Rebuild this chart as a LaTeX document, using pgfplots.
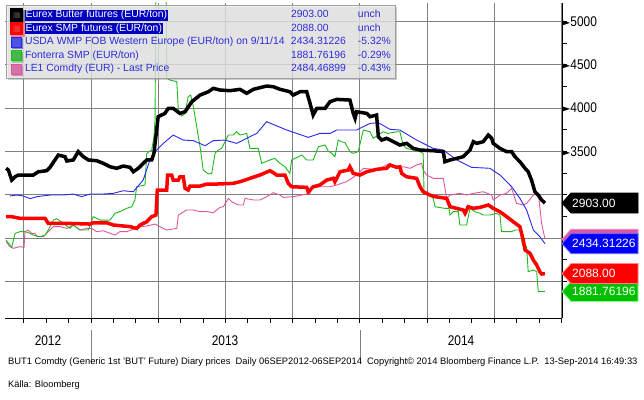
\documentclass[border=0pt]{standalone}
\usepackage{pgfplots}
\pgfplotsset{compat=1.18}
\usepackage{graphicx}
\usepackage{fontspec}
\setmainfont{Liberation Sans}
\newfontfamily\dejavu{DejaVu Sans}
\usetikzlibrary{shadows}
\definecolor{cblue}{HTML}{2828F0}
\definecolor{cgreen}{HTML}{1DB91D}
\definecolor{cpink}{HTML}{E0559F}
\definecolor{cred}{HTML}{FF0000}
\definecolor{legtext}{HTML}{2D2DD8}
\definecolor{hlblue}{HTML}{0000C0}
\tikzset{gridst/.style={black!50, line width=0.8pt}}
\newcommand{\nar}[1]{\scalebox{0.85}[1]{#1}}
\newcommand{\legrow}[3]{\makebox[266pt][l]{#1}\makebox[67pt][l]{#2}#3}
\newcommand{\hl}[1]{{\setlength{\fboxsep}{0.6pt}\colorbox{hlblue}{\textcolor{white}{#1}}}}
\newcommand{\valtag}[4]{%
  \path[fill=#2, draw=#3, line width=0.8pt] (#1) -- ++(9,10) -- ++(67,0) -- ++(0,-20) -- ++(-67,0) -- cycle;
  \node[anchor=west, text=white, font=\fontsize{12}{12}\selectfont, inner sep=0pt] at ([xshift=10pt]#1) {#4};}
\begin{document}
\begin{tikzpicture}[x=1pt,y=1pt]
\fill[white] (0,0) rectangle (644,399);
\begin{axis}[
  at={(5pt,81pt)}, anchor=south west,
  scale only axis, width=557pt, height=315pt,
  xmin=-3.84, xmax=21.03, ymin=1575, ymax=5213,
  axis x line*=bottom, axis y line*=right,
  axis line style={black, line width=1pt, -},
  xtick={-3,0,...,21},
  minor xtick={-2,-1,1,2,4,5,7,8,10,11,13,14,16,17,19,20},
  xticklabels={},
  ytick={3500,4000,4500,5000},
  extra y ticks={2000,2500,3000}, extra y tick labels={},
  minor ytick={2250,2750,...,4750},
  tick align=outside, major tick length=5pt, minor tick length=5pt,
  tick style={black, line width=0.8pt},
  /pgf/number format/1000 sep={},
  /pgf/number format/assume math mode=true,
  yticklabel={{\dejavu\fontsize{12}{12}\selectfont ►}\nar{\pgfmathprintnumber{\tick}}},
  yticklabel style={anchor=west, inner sep=0pt, xshift=-6pt, font=\fontsize{14}{14}\selectfont},
  reverse legend,
  legend image code/.code={\fill (2pt,-5pt) rectangle (12pt,5pt);},
  legend style={at={(rel axis cs:0.0018,0.994)}, anchor=north west,
    fill=gray!14, fill opacity=0.72, text opacity=1, draw=gray!75, line width=1pt,
    drop shadow={shadow xshift=1.5pt, shadow yshift=-1.5pt, opacity=0.4},
    inner sep=3pt, row sep=0pt,
    font=\fontsize{10.4}{12}\selectfont, text=legtext,
    nodes={inner ysep=1.5pt, inner xsep=2pt, text height=8pt, text depth=2.5pt},
    cells={anchor=west}},
]
% grid
\pgfplotsinvokeforeach{2000,2500,3000,3500,4000,4500,5000}{\draw[gridst] (axis cs:-3.84,#1) -- (axis cs:21.03,#1);}
\pgfplotsinvokeforeach{-3,0,3,6,9,12,15,18,21}{\draw[gridst] (axis cs:#1,1575) -- (axis cs:#1,5213);}
% LE1 Comdty (pink)
\addplot[cpink, line width=0.9pt] coordinates {
(-3.79,2456) (-3.62,2399) (-3.47,2380) (-3.17,2399) (-2.99,2391) (-2.95,2572) (-2.80,2591) (-2.65,2553)
(-2.50,2553) (-2.42,2514) (-2.13,2514) (-1.91,2572) (-1.68,2630) (-1.38,2630) (-1.08,2610) (-0.79,2649)
(-0.49,2591) (-0.19,2610) (0.03,2610) (0.25,2572) (0.55,2583) (0.85,2553) (1.07,2533) (1.29,2572)
(1.59,2572) (1.89,2599) (2.19,2630) (2.49,2637) (2.86,2660) (3.08,2630) (3.38,2591) (3.83,2610)
(3.90,2764) (4.27,2822) (4.57,2822) (4.87,2803) (5.17,2803) (5.46,2791) (5.76,2853) (5.91,2860)
(6.13,2957) (6.28,2918) (6.58,2880) (6.80,2880) (6.88,2957) (7.25,2938) (7.54,2938) (7.84,2976)
(8.14,3022) (8.44,2995) (8.58,2968) (9.03,2976) (9.41,2995) (9.78,3015) (9.85,3073) (10.22,3091)
(10.67,3091) (10.97,3111) (11.41,3150) (11.86,3226) (12.16,3304) (12.60,3292) (12.90,3304) (13.35,3361)
(13.65,3304) (13.94,3322) (14.24,3304) (14.54,3342) (14.76,3361) (14.83,3284) (14.99,3226) (15.28,3188)
(15.73,3188) (15.88,2957) (16.03,2995) (16.47,3015) (16.77,2995) (17.07,3015) (17.51,3033) (17.89,2995)
(17.96,2938) (18.26,2995) (18.56,3015) (18.78,3073) (19.00,2899) (19.30,2880) (19.45,2899) (19.75,2995)
(19.97,3015) (20.12,2668) (20.27,2484)};
\addlegendentry{\legrow{LE1 Comdty (EUR) - Last Price}{2484.46899}{-0.43\%}}
% Fonterra SMP (green)
\addplot[cgreen, line width=0.9pt] coordinates {
(-3.79,2475) (-3.54,2391) (-3.39,2553) (-3.17,2572) (-2.95,2572) (-2.72,2553) (-2.58,2533) (-2.28,2514)
(-2.05,2533) (-1.91,2591) (-1.68,2706) (-1.53,2722) (-1.24,2668) (-0.94,2610) (-0.79,2649) (-0.49,2591)
(-0.12,2591) (0.10,2745) (0.40,2706) (0.85,2706) (1.07,2784) (1.29,2803) (1.59,2841) (1.82,2860)
(1.96,2938) (2.04,3091) (2.41,3111) (2.49,3477) (2.71,3515) (2.81,3669) (2.86,3861) (2.90,5500)
(3.35,5500) (3.38,4343) (3.53,4323) (3.83,4304) (3.90,3977) (4.05,3908) (4.20,3938) (4.34,4130)
(4.45,4150) (4.57,4015) (4.87,3553) (5.01,3284) (5.24,3238) (5.39,3245) (5.54,3477) (5.68,3515)
(5.83,3534) (5.98,3611) (6.13,3688) (6.35,3688) (6.50,3726) (6.65,3688) (6.95,3707) (7.10,3534)
(7.47,3534) (7.62,3361) (7.99,3400) (8.21,3419) (8.44,3361) (8.66,3322) (8.88,3245) (8.96,3400)
(9.11,3419) (9.41,3457) (9.63,3400) (9.92,3400) (10.15,3553) (10.45,3573) (10.60,3500) (10.75,3477)
(10.89,3438) (11.04,3630) (11.19,3611) (11.34,3600) (11.56,3496) (11.71,3477) (11.93,3496) (12.16,3746)
(12.46,3726) (12.60,3650) (12.83,3688) (13.05,3726) (13.27,3707) (13.65,3726) (13.79,3726) (13.94,3573)
(14.09,3534) (14.39,3515) (14.69,3496) (14.83,3477) (14.87,3033) (15.13,2995) (15.28,2957) (15.36,2860)
(15.80,2841) (15.98,2841) (16.03,2764) (16.18,2803) (16.40,2803) (16.47,2649) (16.77,2649) (16.92,2841)
(17.14,2803) (17.37,2784) (17.51,2764) (17.81,2764) (18.11,2784) (18.26,2764) (18.33,2572) (18.78,2572)
(18.93,2591) (19.15,2591) (19.27,2418) (19.45,2399) (19.52,2110) (19.75,2129) (19.90,2110) (19.97,1880)
(20.27,1882)};
\addlegendentry{\legrow{Fonterra SMP (EUR/ton)}{1881.76196}{-0.29\%}}
% USDA WMP (blue)
\addplot[cblue, line width=0.9pt] coordinates {
(-3.62,2984) (-3.32,2995) (-3.02,2984) (-2.72,2953) (-2.42,2976) (-1.83,2995) (-1.24,2995) (-0.79,3007)
(-0.42,2976) (-0.04,3007) (0.55,3007) (1.00,3015) (1.44,3045) (1.89,3033) (2.33,3168) (2.63,3400)
(2.93,3515) (3.23,3592) (3.67,3688) (4.12,3630) (4.57,3623) (5.09,3565) (5.46,3623) (5.98,3630)
(6.50,3592) (6.95,3650) (7.40,3707) (7.84,3842) (8.74,3746) (9.70,3661) (10.22,3707) (10.67,3707)
(10.97,3746) (11.86,3746) (12.46,3823) (12.83,3830) (13.35,3754) (13.79,3746) (14.54,3630) (15.28,3534)
(15.73,3515) (16.33,3400) (16.99,3315) (17.81,3304) (18.26,3226) (18.78,3091) (19.15,2957) (19.45,2822)
(19.75,2591) (20.04,2514) (20.27,2434)};
\addlegendentry{\legrow{USDA WMP FOB Western Europe (EUR/ton) on 9/11/14}{2434.31226}{-5.32\%}}
% Eurex SMP futures (red)
\addplot[cred, line width=3.5pt] coordinates {
(-3.79,2745) (-3.54,2745) (-3.17,2726) (-2.05,2726) (-1.91,2668) (-1.08,2668) (-0.04,2660) (0.10,2675)
(0.70,2675) (1.00,2649) (1.74,2630) (2.04,2610) (2.19,2649) (2.49,2687) (2.71,2745) (2.90,2764)
(2.96,3053) (3.38,3053) (3.42,3226) (3.60,3226) (3.67,3168) (3.90,3168) (3.97,3206) (4.12,3206)
(4.20,3073) (4.34,3053) (4.42,3099) (4.87,3099) (5.17,3122) (5.61,3122) (6.35,3130) (6.65,3149)
(7.10,3188) (7.54,3226) (7.99,3276) (8.14,3253) (8.29,3226) (8.66,3226) (8.81,3130) (8.96,3091)
(9.63,3084) (9.70,3033) (9.78,3053) (9.92,3091) (10.22,3111) (10.52,3168) (10.82,3188) (10.89,3149)
(11.12,3264) (11.49,3284) (11.56,3322) (11.71,3245) (12.01,3226) (12.31,3264) (12.75,3292) (13.20,3304)
(13.35,3342) (13.65,3315) (13.79,3322) (13.87,3245) (14.09,3206) (14.54,3188) (14.69,3091) (14.83,3033)
(15.13,2995) (15.36,2976) (15.88,2957) (16.03,2860) (16.33,2841) (16.62,2822) (16.70,2784) (16.84,2860)
(17.07,2841) (17.37,2853) (17.74,2880) (17.96,2841) (18.26,2802) (18.56,2745) (18.85,2687) (19.15,2630)
(19.30,2475) (19.38,2360) (19.60,2322) (19.75,2244) (19.90,2187) (20.04,2110) (20.12,2083) (20.27,2088)};
\addlegendentry{\legrow{\hl{Eurex SMP futures (EUR/ton)}}{2088.00}{unch}}
% Eurex Butter futures (black)
\addplot[black, line width=3.5pt] coordinates {
(-3.79,3304) (-3.69,3284) (-3.54,3168) (-3.39,3206) (-3.25,3226) (-3.02,3226) (-2.58,3226) (-2.35,3264)
(-1.98,3276) (-1.83,3315) (-1.61,3400) (-1.46,3457) (-1.16,3438) (-1.08,3388) (-0.79,3400) (-0.57,3496)
(-0.34,3438) (-0.12,3400) (0.25,3392) (0.55,3361) (0.85,3322) (1.15,3304) (1.44,3330) (1.74,3315)
(1.89,3264) (2.11,3304) (2.49,3400) (2.71,3400) (2.81,3477) (2.93,3746) (3.00,3900) (3.30,3938)
(3.45,3996) (3.67,3996) (3.97,3938) (4.20,3957) (4.50,4073) (4.87,4150) (5.24,4188) (5.46,4227)
(5.76,4208) (6.21,4200) (6.65,4216) (6.95,4170) (7.25,4216) (7.84,4254) (8.14,4246) (8.44,4216)
(8.88,4188) (9.03,4150) (9.33,4188) (9.63,4188) (9.78,4054) (9.92,3919) (10.08,3996) (10.45,3996)
(10.67,4073) (10.97,4100) (11.56,4092) (11.71,3938) (11.79,3881) (11.86,3957) (12.31,3938) (12.46,3900)
(12.75,3919) (12.83,3669) (12.98,3630) (13.20,3650) (13.50,3611) (13.79,3573) (14.09,3592) (14.39,3534)
(14.69,3515) (15.28,3507) (15.73,3496) (15.80,3380) (16.03,3400) (16.33,3419) (16.62,3438) (16.92,3515)
(17.07,3611) (17.22,3592) (17.51,3611) (17.74,3688) (17.89,3650) (17.96,3592) (18.26,3534) (18.56,3496)
(18.78,3496) (18.93,3438) (19.15,3380) (19.38,3304) (19.52,3264) (19.67,3168) (19.82,3033) (19.97,2995)
(20.12,2938) (20.27,2903)};
\addlegendentry{\legrow{\hl{Eurex Butter futures (EUR/ton)}}{2903.00}{unch}}
\coordinate (tK) at (axis cs:21.03,2903);
\coordinate (tP) at (axis cs:21.03,2484);
\coordinate (tB) at (axis cs:21.03,2434);
\coordinate (tR) at (axis cs:21.03,2088);
\coordinate (tG) at (axis cs:21.03,1882);
\end{axis}
% value tags
\path[fill=cpink, draw=cpink!70!white, line width=0.8pt] (tP) -- ++(9,10) -- ++(67,0) -- ++(0,-20) -- ++(-67,0) -- cycle;
\valtag{tB}{blue}{blue!60!white}{2434.31226}
\valtag{tG}{green!75!black}{green!50!white}{1881.76196}
\valtag{tR}{red}{red!50!white}{2088.00}
\valtag{tK}{black}{black}{2903.00}
% year labels
\draw[gray, line width=0.8pt] (91,69) -- (91,35);
\draw[gray, line width=0.8pt] (360,69) -- (360,35);
\node[font=\fontsize{14}{14}\selectfont] at (48,58) {\nar{2012}};
\node[font=\fontsize{14}{14}\selectfont] at (225,58) {\nar{2013}};
\node[font=\fontsize{14}{14}\selectfont] at (461,58) {\nar{2014}};
\node[anchor=west, inner sep=0pt, font=\fontsize{9.35}{9.35}\selectfont] at (8,37) {BUT1 Comdty (Generic 1st 'BUT' Future) Diary prices\ \ Daily 06SEP2012-06SEP2014\ \ Copyright© 2014 Bloomberg Finance L.P.\ \ 13-Sep-2014 16:49:33};
\node[anchor=west, inner sep=0pt, font=\fontsize{9.3}{9.3}\selectfont] at (8,14) {Källa: Bloomberg};
\pgfresetboundingbox
\path[use as bounding box] (0,0) rectangle (644,399);
\end{tikzpicture}
\end{document}
